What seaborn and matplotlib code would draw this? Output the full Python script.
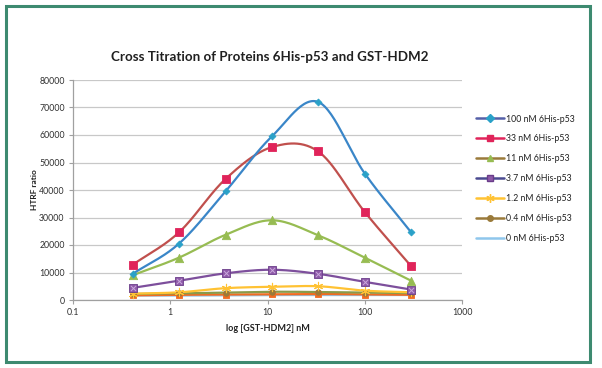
import numpy as np
import pandas as pd
import seaborn as sns
import matplotlib.pyplot as plt
from matplotlib.lines import Line2D
from matplotlib.patches import Rectangle

# GST-HDM2 concentration (nM)
conc = [0.41, 1.23, 3.7, 11.1, 33.3, 100, 300]

# HTRF ratio for each 6His-p53 concentration
p53_100 = [9500, 20500, 39500, 59500, 72000, 46000, 24600]
p53_33 = [12800, 24600, 44000, 55600, 54000, 32000, 12300]
p53_11 = [9000, 15400, 23700, 29000, 23500, 15400, 7000]
p53_3_7 = [4400, 7000, 9700, 11000, 9500, 6600, 3800]
p53_1_2 = [2300, 2800, 4300, 4800, 5000, 3400, 2800]
p53_0_4 = [2200, 2400, 2700, 3000, 2900, 2700, 2500]
p53_0 = [1600, 1600, 1700, 1800, 1800, 1800, 1800]
p53_extra = [1700, 1900, 2000, 2100, 2200, 2000, 1900]

labels = ['100 nM 6His-p53', '33 nM 6His-p53', '11 nM 6His-p53', '3.7 nM 6His-p53',
          '1.2 nM 6His-p53', '0.4 nM 6His-p53', '0 nM 6His-p53']


def smooth(xs, ys, n=30):
    # Catmull-Rom curve through the points in log-x space (like Excel's smoothed line)
    lx = np.log10(xs)
    ys = np.asarray(ys, dtype=float)
    px = np.concatenate([[2 * lx[0] - lx[1]], lx, [2 * lx[-1] - lx[-2]]])
    py = np.concatenate([[2 * ys[0] - ys[1]], ys, [2 * ys[-1] - ys[-2]]])
    out_x, out_y = [], []
    t = np.linspace(0, 1, n)
    for i in range(1, len(px) - 2):
        for p, o in ((px, out_x), (py, out_y)):
            p0, p1, p2, p3 = p[i - 1], p[i], p[i + 1], p[i + 2]
            o.extend(0.5 * (2 * p1 + (-p0 + p2) * t + (2 * p0 - 5 * p1 + 4 * p2 - p3) * t ** 2
                            + (-p0 + 3 * p1 - 3 * p2 + p3) * t ** 3))
    return 10 ** np.array(out_x), np.array(out_y)


sns.set_theme(style='white')
plt.rcParams['font.family'] = ['Lato', 'DejaVu Sans']

fig = plt.figure(figsize=(6.02, 3.68), dpi=100)
ax = fig.add_axes([73 / 602, 68 / 368, 389 / 602, 220 / 368])

# (values, line colour, marker, marker face, marker edge, marker size)
series = [
    (p53_0, '#8fc6ec', None, None, None, 0),
    (p53_extra, '#f26b21', 's', '#f26b21', '#f26b21', 5),
    (p53_0_4, '#8a9a4a', 'o', '#9a7a3a', '#9a7a3a', 4),
    (p53_1_2, '#ffc233', (6, 2, 0), '#ffc233', '#ffc233', 6),
    (p53_3_7, '#7d4f9c', 's', '#8e5aa8', '#6a3d8a', 6),
    (p53_11, '#97bc52', '^', '#97bc52', '#97bc52', 6),
    (p53_33, '#c0504d', 's', '#e0245a', '#e0245a', 6),
    (p53_100, '#3a86c8', 'D', '#2aa1c8', '#2aa1c8', 3.5),
]

for vals, lc, mk, mf, me, ms in series:
    sx, sy = smooth(conc, vals)
    ax.plot(sx, sy, color=lc, lw=1.6, zorder=2)
    if mk is not None:
        df = pd.DataFrame({'conc': conc, 'ratio': vals})
        sns.scatterplot(data=df, x='conc', y='ratio', ax=ax, marker=mk, s=ms ** 2,
                        color=mf, edgecolor=me, linewidth=0.8 if mk == (6, 2, 0) else 0.6,
                        zorder=3, legend=False)
        if vals is p53_3_7:
            ax.scatter(conc, vals, marker='x', s=14, color='#c9a8dc', lw=0.7, zorder=4)

ax.set_xscale('log')
ax.set_xlim(0.1, 1000)
ax.set_ylim(0, 80000)
ax.set_yticks(np.arange(0, 80001, 10000))
ax.set_xticks([0.1, 1, 10, 100, 1000])
ax.set_xticklabels(['0.1', '1', '10', '100', '1000'])
ax.minorticks_off()
ax.yaxis.grid(True, color='#c8c8c8', lw=0.9)
ax.set_axisbelow(True)
for side in ['top', 'right']:
    ax.spines[side].set_visible(False)
for side in ['left', 'bottom']:
    ax.spines[side].set_color('#a0a0a0')
    ax.spines[side].set_linewidth(0.9)
ax.tick_params(axis='both', labelsize=6.3, colors='#303030', length=3, width=0.8,
               direction='out', bottom=True, left=True, pad=3)
ax.tick_params(axis='both', color='#a0a0a0')

ax.set_xlabel('log [GST-HDM2] nM', fontsize=6.5, fontweight='bold', color='#202020', labelpad=5)
ax.set_ylabel('HTRF ratio', fontsize=6, fontweight='bold', color='#202020', labelpad=1)

fig.text(270 / 602, 1 - 57 / 368, 'Cross Titration of Proteins 6His-p53 and GST-HDM2',
         ha='center', va='center', fontsize=9.6, fontweight='bold', color='#202020')

# legend as drawn in the original (its swatch colours differ slightly from the curves)
handles = [
    Line2D([], [], color='#5560a8', lw=1.8, marker='D', ms=4, mfc='#2aa1c8', mec='#2aa1c8'),
    Line2D([], [], color='#e0245a', lw=1.8, marker='s', ms=5, mfc='#e0245a', mec='#e0245a'),
    Line2D([], [], color='#9a7a3a', lw=1.8, marker='^', ms=5, mfc='#97bc52', mec='#97bc52'),
    Line2D([], [], color='#4a4a90', lw=1.8, marker='s', ms=5, mfc='#8e5aa8', mec='#6a3d8a'),
    Line2D([], [], color='#ffc233', lw=1.8, marker=(6, 2, 0), ms=6, mfc='#ffc233', mec='#ffc233'),
    Line2D([], [], color='#9a7a3a', lw=1.8, marker='o', ms=4, mfc='#9a7a3a', mec='#9a7a3a'),
    Line2D([], [], color='#8fc6ec', lw=1.8),
]
fig.legend(handles, labels, loc='upper left', bbox_to_anchor=(472 / 602, 1 - 111 / 368),
           frameon=False, fontsize=6.3, handlelength=3.2, handletextpad=0.3,
           labelspacing=1.25, borderaxespad=0, labelcolor='#202020')

# green frame around the whole figure
fig.patches.append(Rectangle((6 / 602, 1 - 362 / 368), 584 / 602, 356 / 368,
                             transform=fig.transFigure, fill=False,
                             edgecolor='#3d8a70', lw=2.2))

plt.savefig('out.png', dpi=100)
